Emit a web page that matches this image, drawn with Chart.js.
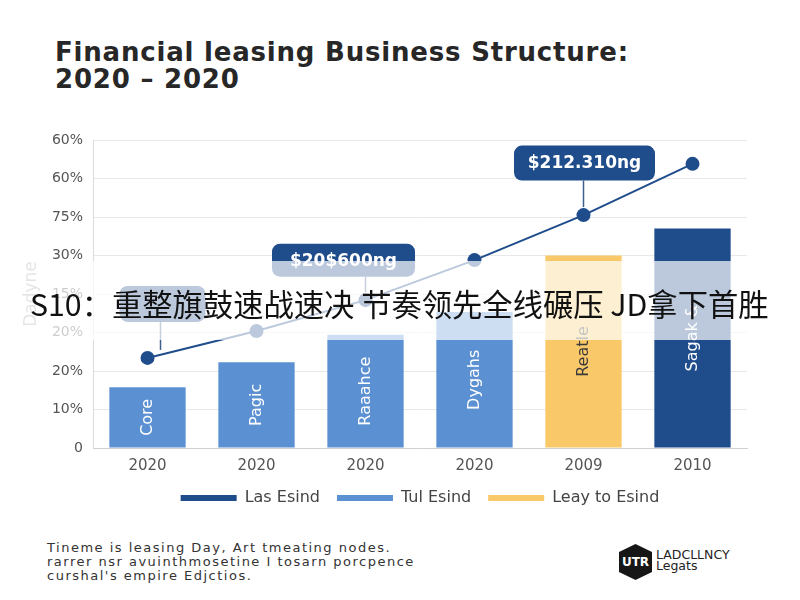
<!DOCTYPE html>
<html>
<head>
<meta charset="utf-8">
<script src="https://cdn.jsdelivr.net/npm/chart.js@4.4.1/dist/chart.umd.min.js"></script>
<style>
  html, body { margin: 0; padding: 0; background: #fff; }
  #page { position: relative; width: 800px; height: 600px; overflow: hidden; background: #fff; }
  .title { position: absolute; left: 55px; top: 39px; font-family: "DejaVu Sans", sans-serif; font-weight: bold; font-size: 26px; line-height: 27px; letter-spacing: 0.8px; color: #272727; }
  #chartBox { position: absolute; left: 0; top: 110px; width: 800px; height: 406px; }
  .ytitle { position: absolute; left: 30px; top: 294px; transform: translate(-50%, -50%) rotate(-90deg); font-family: "DejaVu Sans", sans-serif; font-size: 17px; color: #a8a8a8; white-space: nowrap; }
  .band { position: absolute; left: 0; top: 261px; width: 800px; height: 79px; background: rgba(255,255,255,0.7); }
  .overlay { position: absolute; left: 30px; top: 283px; font-family: "Noto Sans CJK SC", sans-serif; font-size: 30.3px; line-height: 40px; color: #111; white-space: nowrap; }
  .footer { position: absolute; left: 47px; top: 541px; font-family: "DejaVu Sans", sans-serif; font-size: 13px; line-height: 14px; letter-spacing: 1.5px; color: #333; }
  .logo { position: absolute; left: 619px; top: 544px; width: 33px; height: 36px; background: #161616; clip-path: polygon(50% 0, 100% 22%, 100% 78%, 50% 100%, 0 78%, 0 22%); color: #fff; font: bold 12px "DejaVu Sans", sans-serif; display: flex; align-items: center; justify-content: center; }
  .logoText { position: absolute; left: 656px; top: 549px; font-family: "DejaVu Sans", sans-serif; font-size: 12.5px; line-height: 11px; color: #222; }
</style>
</head>
<body>
<div id="page">
  <div class="title">Financial leasing Business Structure:<br>2020 – 2020</div>
  <div id="chartBox"><canvas id="mixChart"></canvas></div>
  <div class="ytitle">Dadyne</div>
  <div class="band"></div>
  <div class="overlay">S10：重整旗鼓速战速决 节奏领先全线碾压 JD拿下首胜</div>
  <div class="footer">Tineme is leasing Day, Art tmeating nodes.<br>rarrer nsr avuinthmosetine I tosarn porcpence<br>curshal's empire Edjctios.</div>
  <div class="logo">UTR</div>
  <div class="logoText">LADCLLNCY<br>Legats</div>
</div>
<script>
const categories = ["2020", "2020", "2020", "2020", "2009", "2010"];
const yTickLabels = ["0", "10%", "20%", "20%", "15%", "30%", "75%", "60%", "60%"];
const barLabels = ["Core", "Pagic", "Raaahce", "Dygahs", "Reatle", "Sagak &"];
const lasEsind = [null, null, null, null, null, 57];
const tulEsind = [15.8, 22.3, 29.4, 35.3, null, null];
const leayToEsind = [null, null, null, null, 50, null];
const trendValues = [23.4, 30.4, 38.4, 48.8, 60.5, 73.8];
const callouts = [
  { index: 0, text: "" },
  { index: 2, text: "$20$600ng" },
  { index: 4, text: "$212.310ng" }
];

const NAVY = "#1f4c8b";
const BLUE = "#5b90d2";
const YELLOW = "#f9c969";
const FONT = "'DejaVu Sans', sans-serif";

// rotated labels inside bars
const barTextPlugin = {
  id: "barText",
  afterDatasetsDraw(chart) {
    const ctx = chart.ctx;
    ctx.save();
    ctx.font = "16px " + FONT;
    ctx.textAlign = "center";
    ctx.textBaseline = "middle";
    chart.data.datasets.forEach((ds, di) => {
      if (ds.type === "line") return;
      chart.getDatasetMeta(di).data.forEach((bar, i) => {
        if (ds.data[i] == null) return;
        const mid = (bar.y + bar.base) / 2;
        ctx.save();
        ctx.translate(bar.x, mid);
        ctx.rotate(-Math.PI / 2);
        ctx.fillStyle = ds.backgroundColor === YELLOW ? "#3a3a3a" : "#fff";
        ctx.fillText(barLabels[i], 0, 0);
        ctx.restore();
      });
    });
    ctx.restore();
  }
};

// callout boxes above line points
const calloutPlugin = {
  id: "callouts",
  afterDraw(chart) {
    const ctx = chart.ctx;
    const meta = chart.getDatasetMeta(3);
    const boxes = [
      { dx: 15, dy: -54, w: 86, h: 36 },
      { dx: -22, dy: -40, w: 143, h: 33 },
      { dx: 1, dy: -52, w: 141, h: 35 }
    ];
    ctx.save();
    callouts.forEach((c, k) => {
      const p = meta.data[c.index];
      const b = boxes[k];
      const cx = p.x + b.dx, cy = p.y + b.dy;
      const lx = c.index === 0 ? cx - 2 : p.x;
      ctx.strokeStyle = "#3c5f8e";
      ctx.lineWidth = 1.5;
      ctx.beginPath();
      ctx.moveTo(lx, cy + b.h / 2);
      ctx.lineTo(lx, p.y - 8);
      ctx.stroke();
      ctx.fillStyle = NAVY;
      ctx.beginPath();
      ctx.roundRect(cx - b.w / 2, cy - b.h / 2, b.w, b.h, 8);
      ctx.fill();
      if (c.text) {
        ctx.fillStyle = "#fff";
        ctx.font = "bold 17px " + FONT;
        ctx.textAlign = "center";
        ctx.textBaseline = "middle";
        ctx.fillText(c.text, cx, cy + 1);
      }
    });
    ctx.restore();
  }
};

new Chart(document.getElementById("mixChart").getContext("2d"), {
  type: "bar",
  data: {
    labels: categories,
    datasets: [
      { label: "Las Esind", data: lasEsind, backgroundColor: NAVY, order: 2 },
      { label: "Tul Esind", data: tulEsind, backgroundColor: BLUE, order: 2 },
      { label: "Leay to Esind", data: leayToEsind, backgroundColor: YELLOW, order: 2 },
      {
        type: "line",
        label: "trend",
        data: trendValues,
        borderColor: NAVY,
        borderWidth: 2,
        pointRadius: 7,
        pointBackgroundColor: NAVY,
        pointBorderWidth: 0,
        tension: 0,
        order: 1
      }
    ]
  },
  options: {
    responsive: true,
    maintainAspectRatio: false,
    animation: false,
    skipNull: true,
    barPercentage: 0.7,
    categoryPercentage: 1,
    layout: { padding: { top: 30, right: 53, bottom: 0, left: 0 } },
    scales: {
      y: {
        min: 0,
        max: 80,
        ticks: {
          stepSize: 10,
          padding: 10,
          color: "#555",
          font: { size: 14, family: FONT },
          callback: (v, i) => yTickLabels[i]
        },
        grid: { color: "#e8e8e8", drawTicks: false },
        border: { color: "#dcdcdc" },
        afterFit: (scale) => { scale.height = 0; scale.width = 93; }
      },
      x: {
        ticks: {
          padding: 1,
          color: "#555",
          font: { size: 15, family: FONT }
        },
        grid: { display: false },
        border: { color: "#d0d0d0" },
        afterFit: (scale) => { scale.height = 25; }
      }
    },
    plugins: {
      legend: {
        position: "bottom",
        fullSize: false,
        labels: {
          boxWidth: 56,
          boxHeight: 6,
          padding: 17,
          color: "#444",
          font: { size: 16, family: FONT },
          filter: (item) => item.text !== "trend"
        }
      },
      tooltip: { enabled: false }
    }
  },
  plugins: [barTextPlugin, calloutPlugin]
});
</script>
</body>
</html>
